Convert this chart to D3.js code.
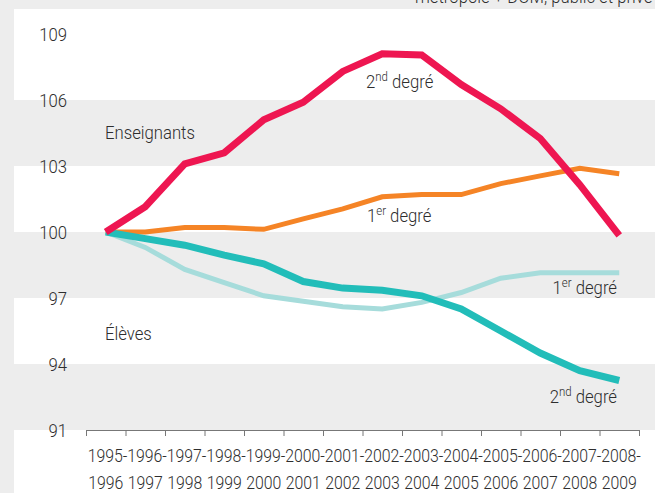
<!DOCTYPE html>
<html>
<head>
<meta charset="utf-8">
<script src="https://cdn.jsdelivr.net/npm/d3@7"></script>
<style>
  body { margin: 0; background: #ededed; }
  svg { display: block; }
  text { font-family: Roboto, "Liberation Sans", sans-serif; font-weight: 300; fill: #2e2e2e; }
</style>
</head>
<body>
<div id="chart"></div>
<script>
// Données (base 100 en 1995-1996)
const years = ["1995-1996", "1996-1997", "1997-1998", "1998-1999", "1999-2000", "2000-2001", "2001-2002",
  "2002-2003", "2003-2004", "2004-2005", "2005-2006", "2006-2007", "2007-2008", "2008-2009"];

const ensSecond = [100, 101.15, 103.1, 103.6, 105.1, 105.9, 107.3, 108.1, 108.05, 106.7, 105.6, 104.25, 102.15, 99.85];
const ensPremier = [100, 100.0, 100.2, 100.2, 100.12, 100.6, 101.05, 101.6, 101.7, 101.7, 102.2, 102.55, 102.9, 102.65];
const elevesSecond = [100, 99.7, 99.4, 98.95, 98.55, 97.75, 97.45, 97.35, 97.1, 96.5, 95.5, 94.5, 93.7, 93.25];
const elevesPremier = [100, 99.3, 98.3, 97.7, 97.1, 96.85, 96.6, 96.5, 96.8, 97.25, 97.9, 98.15, 98.15, 98.15];

const yTicks = [91, 94, 97, 100, 103, 106, 109];

const width = 655, height = 493;
const sx = 0.88; // police condensée

const svg = d3.select("#chart").append("svg")
  .attr("width", width)
  .attr("height", height);

// fond
svg.append("rect").attr("width", width).attr("height", height).attr("fill", "#ededed");
svg.append("rect").attr("x", 14).attr("y", 9).attr("width", width - 14).attr("height", height - 9).attr("fill", "#fff");

// texte condensé
function label(px, py, str, size, anchor) {
  return svg.append("text")
    .attr("transform", `translate(${px},${py}) scale(${sx},1)`)
    .attr("font-size", size + "px")
    .attr("text-anchor", anchor || "start")
    .text(str);
}

// sous-titre coupé en haut
label(415, 3, "métropole + DOM, public et privé", 19);

const y = d3.scaleLinear().domain([91, 109]).range([430, 34]);
const x = d3.scaleBand().domain(years).range([86, 639]);
const xTick = d3.scaleLinear().domain([0, years.length]).range([86, 639]);

// bandes grises
const bands = [[103, 106], [97, 100], [91, 94]];
svg.selectAll("rect.band")
  .data(bands)
  .enter()
  .append("rect")
  .attr("class", "band")
  .attr("x", 14)
  .attr("width", width - 14)
  .attr("y", d => y(d[1]))
  .attr("height", d => y(d[0]) - y(d[1]))
  .attr("fill", "#ededed");

// axe Y (étiquettes seulement)
svg.selectAll("text.ylab")
  .data(yTicks)
  .enter()
  .append("text")
  .attr("class", "ylab")
  .attr("transform", d => `translate(67,${y(d)}) scale(${sx},1)`)
  .attr("dy", "0.36em")
  .attr("text-anchor", "end")
  .attr("font-size", "19px")
  .text(d => d);

// axe X
const xAxis = svg.append("g")
  .attr("transform", `translate(0,${y(91)})`)
  .call(d3.axisBottom(xTick).ticks(years.length).tickSize(6).tickFormat(""));
xAxis.selectAll("path, line").attr("stroke", "#777");

const xl = svg.selectAll("g.xlab")
  .data(years)
  .enter()
  .append("g")
  .attr("class", "xlab")
  .attr("transform", d => `translate(${x(d) + x.bandwidth() / 2},0) scale(${sx},1)`);
xl.append("text")
  .attr("x", 2)
  .attr("y", 462)
  .attr("text-anchor", "middle")
  .attr("font-size", "18px")
  .text(d => d.split("-")[0] + "-");
xl.append("text")
  .attr("x", 0)
  .attr("y", 489)
  .attr("text-anchor", "middle")
  .attr("font-size", "18px")
  .text(d => d.split("-")[1]);

// courbes
const line = d3.line()
  .x((d, i) => x(years[i]) + x.bandwidth() / 2)
  .y(d => y(d));

const series = [
  { values: elevesPremier, color: "#a6dcdb", w: 5 },
  { values: ensPremier, color: "#f58426", w: 5 },
  { values: elevesSecond, color: "#22bdb9", w: 7 },
  { values: ensSecond, color: "#ee1651", w: 7 }
];

svg.selectAll("path.serie")
  .data(series)
  .enter()
  .append("path")
  .attr("class", "serie")
  .attr("d", d => line(d.values))
  .attr("fill", "none")
  .attr("stroke", d => d.color)
  .attr("stroke-width", d => d.w)
  .attr("stroke-linejoin", "miter");

// étiquettes des séries
function degre(px, py, num, sup, anchor) {
  const t = label(px, py, null, 19, anchor);
  t.append("tspan").text(num);
  t.append("tspan").attr("font-size", "13px").attr("dy", "-7").text(sup);
  t.append("tspan").attr("dy", "7").text(" degré");
}

degre(366, 88, "2", "nd", "start");
degre(367, 222, "1", "er", "start");
degre(617, 294, "1", "er", "end");
degre(617, 403, "2", "nd", "end");

label(105, 139, "Enseignants", 19);
label(105, 340, "Élèves", 19);
</script>
</body>
</html>
